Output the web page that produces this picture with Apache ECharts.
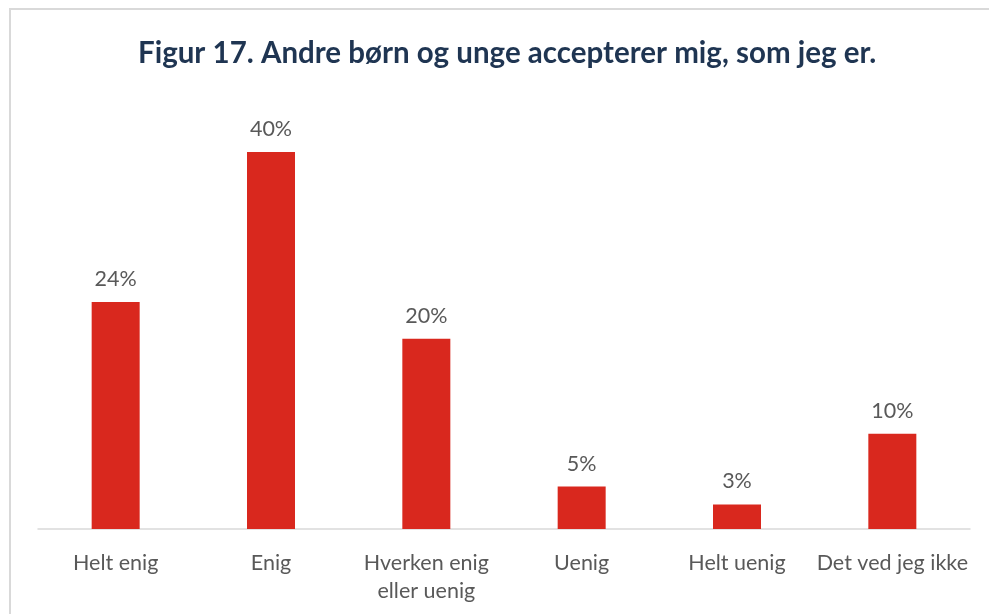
<!DOCTYPE html>
<html>
<head>
<meta charset="utf-8">
<script src="https://cdn.jsdelivr.net/npm/echarts@6/dist/echarts.min.js"></script>
<style>
  html, body { margin: 0; padding: 0; background: #fff; }
  #frame { position: absolute; left: 9px; top: 8px; width: 1000px; height: 620px; border: 2px solid #d9d9d9; box-sizing: border-box; }
  #chart { position: absolute; left: 0; top: 0; width: 989px; height: 614px; }
</style>
</head>
<body>
<div id="frame"></div>
<div id="chart"></div>
<script>
// answers and shares (%)
var categories = ['Helt enig', 'Enig', 'Hverken enig\neller uenig', 'Uenig', 'Helt uenig', 'Det ved jeg ikke'];
var values = [24.1, 40, 20.2, 4.5, 2.6, 10.1];

var myChart = echarts.init(document.getElementById('chart'));

var option = {
  title: {
    text: 'Figur 17. Andre børn og unge accepterer mig, som jeg er.',
    left: 133,
    top: 33,
    textStyle: { fontFamily: 'Lato', fontSize: 29.5, fontWeight: 'bold', color: '#1f3552' }
  },
  grid: { left: 38, right: 19, top: 105, bottom: 85 },
  xAxis: {
    type: 'category',
    data: categories,
    axisTick: { show: false },
    axisLine: { lineStyle: { color: '#d9d9d9', width: 1.5 } },
    axisLabel: {
      color: '#595959', fontFamily: 'Lato', fontSize: 21.5, margin: 20,
      lineHeight: 28, interval: 0
    }
  },
  yAxis: {
    type: 'value',
    min: 0,
    max: 45,
    show: false
  },
  series: [{
    type: 'bar',
    data: values,
    barWidth: 48,
    itemStyle: { color: '#d9281e' },
    label: {
      show: true,
      position: 'top',
      distance: 12,
      color: '#595959',
      fontFamily: 'Lato',
      fontSize: 21.5,
      formatter: function (p) { return Math.round(p.value) + '%'; }
    }
  }]
};

myChart.setOption(option);
</script>
</body>
</html>
